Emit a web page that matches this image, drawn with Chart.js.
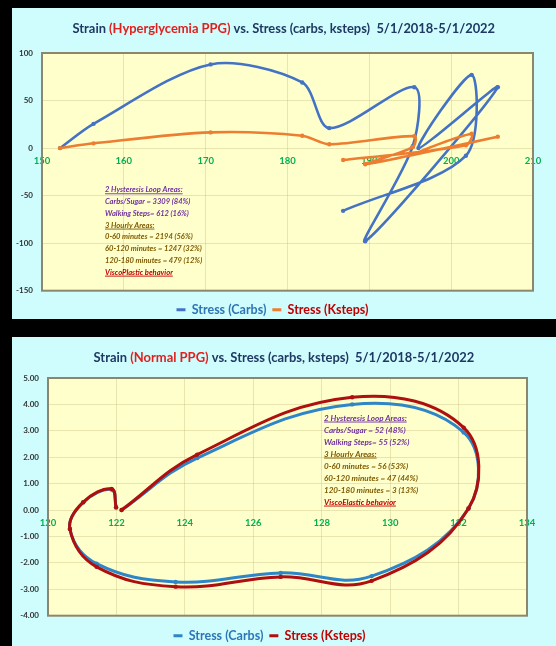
<!DOCTYPE html>
<html><head><meta charset="utf-8">
<script src="https://cdn.jsdelivr.net/npm/chart.js@4.4.0/dist/chart.umd.min.js"></script>
<style>
html,body{margin:0;padding:0;background:#000;width:556px;height:646px;overflow:hidden;position:relative}
.panel{position:absolute;background:#CFFDFD}
#p1{left:12px;top:8px;width:544px;height:311px}
#p2{left:12px;top:337px;width:544px;height:309px}
canvas{display:block;position:absolute;left:0;top:0}
</style></head><body>
<div class="panel" id="p1"><canvas id="c1"></canvas></div>
<div class="panel" id="p2"><canvas id="c2"></canvas></div>
<script>
// ---------- DATA ----------
// Top chart: Strain (Hyperglycemia PPG) vs Stress
const hyperStrain = [152.2, 156.3, 170.6, 181.8, 185.1, 195.5, 195.3, 189.5, 205.7, 196.0, 202.5, 201.8, 186.8];
const hyperCarbs  = [0, 25.5, 88, 69, 21, 64, 2, -98, 64, 0, 77, -8, -66];
const hyperKsteps = [0, 5, 16.5, 13, 4, 12.5, 1, -17, 12, -5, 15, 3, -12.6];
const hyperXTicks = [150, 160, 170, 180, 190, 200, 210];
const hyperYTicks = [-150, -100, -50, 0, 50, 100];

// Bottom chart: Strain (Normal PPG) vs Stress
const normalStrain = [122.15, 124.36, 128.89, 132.15, 132.29, 129.46, 126.8, 123.73, 121.42, 120.64, 121.03, 121.86, 121.99];
const normalCarbs  = [0.0, 1.97, 4.0, 2.94, 0.06, -2.5, -2.38, -2.72, -2.03, -0.72, 0.29, 0.78, 0.1];
const normalKsteps = [0.0, 2.1, 4.27, 3.12, 0.06, -2.68, -2.53, -2.9, -2.15, -0.72, 0.3, 0.8, 0.1];
const normalXTicks = [120, 122, 124, 126, 128, 130, 132, 134];
const normalYTicks = [-4, -3, -2, -1, 0, 1, 2, 3, 4, 5];

const seriesNames = ['Stress (Carbs)', 'Stress (Ksteps)'];

const hyperTitle = [['Strain ', 'navy'], ['(Hyperglycemia PPG)', 'red'], [' vs. Stress (carbs, ksteps)  5/1/2018-5/1/2022', 'navy']];
const normalTitle = [['Strain ', 'navy'], ['(Normal PPG)', 'red'], [' vs. Stress (carbs, ksteps)  5/1/2018-5/1/2022', 'navy']];

const hyperNotes = [
  ['2 Hysteresis Loop Areas:', 'purple', true],
  ['Carbs/Sugar = 3309 (84%)', 'purple', false],
  ['Walking Steps= 612 (16%)', 'purple', false],
  ['3 Hourly Areas:', 'brown', true],
  ['0-60 minutes = 2194 (56%)', 'brown', false],
  ['60-120 minutes = 1247 (32%)', 'brown', false],
  ['120-180 minutes = 479 (12%)', 'brown', false],
  ['ViscoPlastic behavior', 'red', true]
];
const normalNotes = [
  ['2 Hysteresis Loop Areas:', 'purple', true],
  ['Carbs/Sugar = 52 (48%)', 'purple', false],
  ['Walking Steps= 55 (52%)', 'purple', false],
  ['3 Hourly Areas:', 'brown', true],
  ['0-60 minutes = 56 (53%)', 'brown', false],
  ['60-120 minutes = 47 (44%)', 'brown', false],
  ['120-180 minutes = 3 (13%)', 'brown', false],
  ['ViscoElastic behavior', 'red', true]
];

// ---------- STYLE ----------
const FONT = 'Lato, "Liberation Sans", sans-serif';
Chart.defaults.font.family = FONT;
const palette = { navy: '#1F3864', red: '#C00000', purple: '#7030A0', brown: '#7F5A00', titleRed: '#E0201E' };

const plotBg = {
  id: 'plotBg',
  beforeDraw(chart, args, o) {
    const {ctx, chartArea: a} = chart;
    ctx.save(); ctx.fillStyle = o.fill; ctx.fillRect(a.left, a.top, a.width, a.height); ctx.restore();
  },
  beforeDatasetsDraw(chart, args, o) {
    const {ctx, chartArea: a} = chart;
    ctx.save(); ctx.strokeStyle = o.border; ctx.lineWidth = o.borderWidth;
    ctx.strokeRect(a.left, a.top, a.width, a.height); ctx.restore();
  }
};

const richTitle = {
  id: 'richTitle',
  afterDraw(chart, args, o) {
    const ctx = chart.ctx;
    ctx.save();
    const f = s => 'bold ' + s + 'px ' + FONT;
    ctx.font = f(20);
    const full = o.parts.map(p => p[0]).join('');
    const size = 20 * o.width / ctx.measureText(full).width;
    ctx.font = f(size);
    ctx.textBaseline = 'middle';
    ctx.textAlign = 'left';
    let x = o.cx - o.width / 2;
    for (const [t, c] of o.parts) {
      ctx.fillStyle = c === 'red' ? palette.titleRed : palette.navy;
      ctx.fillText(t, x, o.cy);
      x += ctx.measureText(t).width;
    }
    ctx.restore();
  }
};

const notes = {
  id: 'notes',
  afterDraw(chart, args, o) {
    const ctx = chart.ctx;
    ctx.save();
    const f = s => 'italic bold ' + s + 'px ' + FONT;
    ctx.font = f(10);
    const size = 10 * o.refWidth / ctx.measureText(o.lines[5][0]).width;
    ctx.font = f(size);
    ctx.textBaseline = 'middle';
    ctx.textAlign = 'left';
    o.lines.forEach(([t, c, ul], i) => {
      const y = o.y + i * o.step;
      ctx.fillStyle = palette[c];
      ctx.fillText(t, o.x, y);
      if (ul) {
        const w = ctx.measureText(t).width;
        ctx.strokeStyle = palette[c]; ctx.lineWidth = 0.9;
        ctx.beginPath(); ctx.moveTo(o.x, y + size * 0.5); ctx.lineTo(o.x + w, y + size * 0.5); ctx.stroke();
      }
    });
    ctx.restore();
  }
};

function pts(xs, ys) { return xs.map((x, i) => ({x: x, y: ys[i]})); }

function makeChart(id, c) {
  const canvas = document.getElementById(id);
  canvas.width = c.W; canvas.height = c.H;
  canvas.style.width = c.W + 'px'; canvas.style.height = c.H + 'px';
  const xt = c.xTicks, yt = c.yTicks;
  return new Chart(canvas, {
    type: 'scatter',
    data: {
      datasets: [
        { label: seriesNames[0], data: pts(c.x, c.y1), borderColor: c.colors[0], backgroundColor: c.colors[0],
          showLine: true, tension: c.tension, borderWidth: c.lw, pointRadius: 2.2, pointBorderWidth: 0, order: 2 },
        { label: seriesNames[1], data: pts(c.x, c.y2), borderColor: c.colors[1], backgroundColor: c.colors[1],
          showLine: true, tension: c.tension, borderWidth: c.lw, pointRadius: 2.2, pointBorderWidth: 0, order: 1 }
      ]
    },
    options: {
      responsive: false, animation: false, devicePixelRatio: 1,
      layout: { padding: { left: 0, top: c.padTop, right: c.padRight, bottom: 0 } },
      scales: {
        x: {
          type: 'linear', position: { y: 0 },
          min: xt[0], max: xt[xt.length - 1],
          ticks: { stepSize: xt[1] - xt[0], color: '#00B050', padding: 7, font: { size: 9.5, weight: 'bold' }, callback: v => v },
          grid: { color: 'rgba(190,180,120,0.35)', drawTicks: false, lineWidth: 1 },
          border: { display: false }
        },
        y: {
          type: 'linear',
          min: yt[0], max: yt[yt.length - 1],
          ticks: { stepSize: yt[1] - yt[0], color: '#333333', padding: 9, font: { size: 8, weight: 'bold' }, callback: c.yFmt },
          grid: { color: 'rgba(190,180,120,0.35)', drawTicks: false, lineWidth: 1 },
          border: { display: false },
          afterFit: s => { s.width = c.yWidth; }
        }
      },
      plugins: {
        tooltip: { enabled: false },
        title: { display: false },
        legend: {
          position: 'bottom',
          title: { display: true, text: '', font: { size: 1 }, padding: { top: c.legendShift / 2, bottom: c.legendShift / 2 } },
          labels: {
            font: { size: 12.5, weight: 'bold' },
            padding: 6, boxWidth: 9, boxHeight: 3,
            generateLabels: ch => ch.data.datasets.map((ds, i) => ({
              text: ds.label, fillStyle: ds.borderColor, strokeStyle: ds.borderColor, lineWidth: 0,
              fontColor: c.legendText[i], datasetIndex: i, hidden: false
            }))
          }
        },
        plotBg: { fill: '#FFFFCC', border: '#8A876C', borderWidth: 2 },
        richTitle: { parts: c.title, cx: c.W / 2, cy: c.titleY, width: c.titleW },
        notes: { lines: c.notes, x: c.noteX, y: c.noteY, step: c.noteStep, refWidth: c.noteRefW }
      }
    },
    plugins: [plotBg, richTitle, notes]
  });
}

makeChart('c1', {
  W: 544, H: 318, padTop: 45, padRight: 23, yWidth: 30, legendShift: 5.6,
  x: hyperStrain, y1: hyperCarbs, y2: hyperKsteps, xTicks: hyperXTicks, yTicks: hyperYTicks,
  yFmt: v => String(v), tension: 0.3, lw: 2.6,
  colors: ['#4472C4', '#ED7D31'], legendText: ['#2E75B6', '#C00000'],
  title: hyperTitle, titleY: 21, titleW: 423,
  notes: hyperNotes, noteX: 93, noteY: 182, noteStep: 11.76, noteRefW: 97
});

makeChart('c2', {
  W: 544, H: 315, padTop: 41, padRight: 29, yWidth: 36, legendShift: 6.6,
  x: normalStrain, y1: normalCarbs, y2: normalKsteps, xTicks: normalXTicks, yTicks: normalYTicks,
  yFmt: v => Number(v).toFixed(2), tension: 0.4, lw: 3,
  colors: ['#2E86C8', '#AE0F0F'], legendText: ['#2E75B6', '#C00000'],
  title: normalTitle, titleY: 21, titleW: 381,
  notes: normalNotes, noteX: 312, noteY: 81, noteStep: 12, noteRefW: 94
});
</script>
</body></html>
